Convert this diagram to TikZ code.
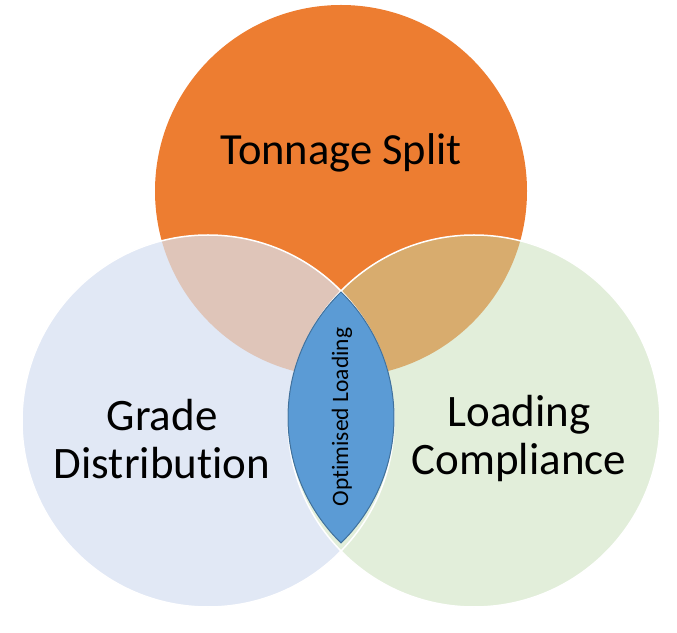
\documentclass[tikz,border=0pt]{standalone}
\usepackage{fontspec}
\setmainfont{Carlito}[Ligatures=CommonOff]
\definecolor{tonnage}{HTML}{ED7D31}
\definecolor{grade}{HTML}{E1E8F5}
\definecolor{compliance}{HTML}{E2EEDA}
\definecolor{gradetonnage}{HTML}{DFC5B9}
\definecolor{compliancetonnage}{HTML}{D8AC6E}
\definecolor{optfill}{HTML}{5B9BD5}
\definecolor{optline}{HTML}{41719C}
\tikzset{
  biglabel/.style={align=center, font=\fontsize{45}{48}\selectfont},
  rim/.style={white, line width=1.5pt},
  lens/.style={fill=optfill, draw=optline, line width=1pt}
}

\begin{document}
\begin{tikzpicture}[x=1pt,y=1pt]
  \useasboundingbox (0,0) rectangle (677,632);
  \fill[tonnage] (341,441) circle (186pt);
  \fill[grade] (208,211) circle (186pt);
  \fill[compliance] (474,211) circle (186pt);
  \begin{scope}
    \clip (341,441) circle (186pt);
    \fill[gradetonnage] (208,211) circle (186pt);
    \fill[compliancetonnage] (474,211) circle (186pt);
  \end{scope}
  \draw[rim] (208,211) circle (186pt);
  \draw[rim] (474,211) circle (186pt);
  \draw[lens] (341,340) arc[start angle=134.2, end angle=225.8, radius=175pt]
    arc[start angle=-45.8, end angle=45.8, radius=175pt] -- cycle;
  \node[font=\fontsize{44.5}{48}\selectfont, anchor=base] (split) at (341,467) {Tonnage Split};
  \node[biglabel] (gradedist) at (162,193) {Grade\\Distribution};
  \node[biglabel] (loadcomp) at (519,193) {Loading\\Compliance};
  \node[rotate=90, font=\fontsize{23.5}{28}\selectfont] (optimised) at (342,215) {Optimised Loading};
\end{tikzpicture}
\end{document}
